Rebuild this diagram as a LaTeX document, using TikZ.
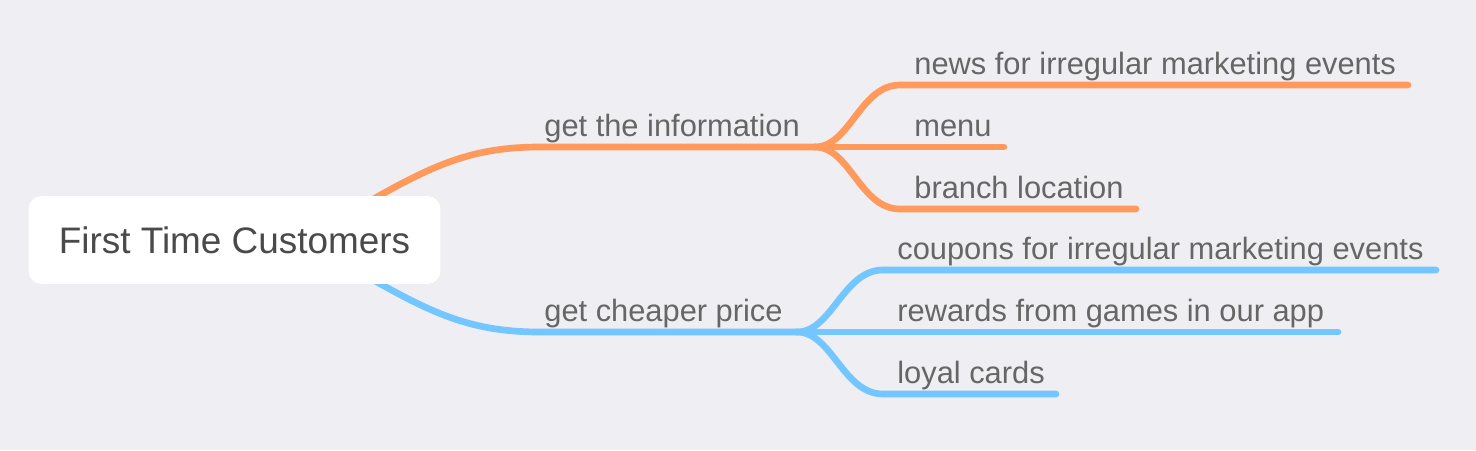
\documentclass[tikz,border=0pt]{standalone}
\usepackage{fontspec}
\setmainfont{Liberation Sans}
\usetikzlibrary{positioning}
\definecolor{bg}{HTML}{EFEEF3}
\definecolor{orangeline}{HTML}{FF9A5C}
\definecolor{blueline}{HTML}{73C6FF}
\definecolor{roottext}{HTML}{4A4A4A}
\definecolor{subtext}{HTML}{666666}
\begin{document}
\begin{tikzpicture}[x=0.02cm, y=-0.02cm,
	root/.style = {fill=white, rounded corners=0.26cm, minimum width=8.24cm, minimum height=1.76cm, inner sep=0pt, text=roottext, font=\fontsize{21}{25}\selectfont},
	label/.style = {anchor=base west, inner sep=0pt, text=subtext, font=\fontsize{17.55}{20}\selectfont},
	obranch/.style = {draw=orangeline, line width=3.8pt, line cap=round},
	bbranch/.style = {draw=blueline, line width=3.8pt, line cap=round}]
	\fill[bg] (0,0) rectangle (1476,450);
	\useasboundingbox (0,0) rectangle (1476,450);
	% branch points
	\coordinate (os) at (330,224);
	\coordinate (of) at (815,147);
	\coordinate (bs) at (330,255);
	\coordinate (bf) at (797,332);
	\coordinate (o1) at (1408,85);
	\coordinate (o2) at (1004,147);
	\coordinate (o3) at (1136,209);
	\coordinate (b1) at (1436,270);
	\coordinate (b2) at (1338,332);
	\coordinate (b3) at (1056,394);
	% orange side
	\draw[obranch] (os) .. controls (420,172) and (460,147) .. (540,147) -- (of);
	\draw[obranch] (of) .. controls (850,147) and (860,85) .. (900,85) -- (o1);
	\draw[obranch] (of) -- (o2);
	\draw[obranch] (of) .. controls (850,147) and (860,209) .. (900,209) -- (o3);
	% blue side
	\draw[bbranch] (bs) .. controls (420,307) and (460,332) .. (540,332) -- (bf);
	\draw[bbranch] (bf) .. controls (832,332) and (843,270) .. (883,270) -- (b1);
	\draw[bbranch] (bf) -- (b2);
	\draw[bbranch] (bf) .. controls (832,332) and (843,394) .. (883,394) -- (b3);
	\node[root] (ftc) at (234.5,240) {First Time Customers};
	\node[label] (info) at (544,136) {get the information};
	\node[label] (news) at (914,74) {news for irregular marketing events};
	\node[label] (menu) at (914,136) {menu};
	\node[label] (loc) at (914,198) {branch location};
	\node[label] (price) at (544,321) {get cheaper price};
	\node[label] (coup) at (897,259) {coupons for irregular marketing events};
	\node[label] (rew) at (897,321) {rewards from games in our app};
	\node[label] (card) at (897,383) {loyal cards};
\end{tikzpicture}
\end{document}
